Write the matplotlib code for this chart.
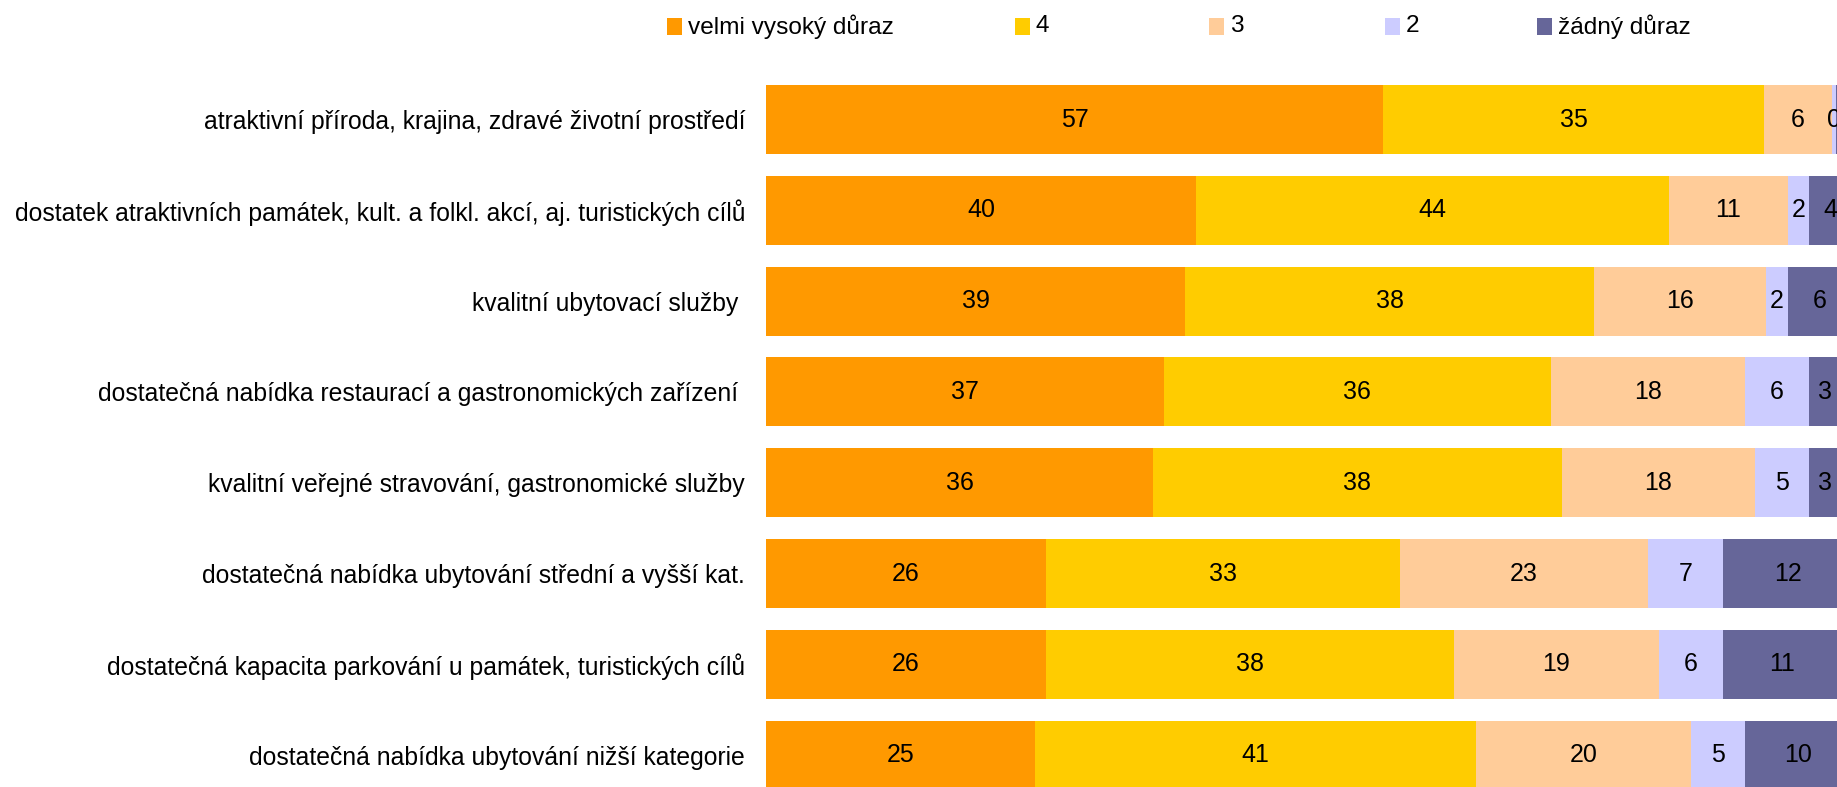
import matplotlib.pyplot as plt
from matplotlib.patches import Rectangle
import numpy as np

plt.rcParams['font.family'] = ['Liberation Sans', 'DejaVu Sans']

categories = [
    "atraktivní příroda, krajina, zdravé životní prostředí",
    "dostatek atraktivních památek, kult. a folkl. akcí, aj. turistických cílů",
    "kvalitní ubytovací služby ",
    "dostatečná nabídka restaurací a gastronomických zařízení ",
    "kvalitní veřejné stravování, gastronomické služby",
    "dostatečná nabídka ubytování střední a vyšší kat.",
    "dostatečná kapacita parkování u památek, turistických cílů",
    "dostatečná nabídka ubytování nižší kategorie",
]
series_names = ["velmi vysoký důraz", "4", "3", "2", "žádný důraz"]
velmi = [57.4, 40, 39, 37, 36, 26, 26, 25]
s4 = [35.4, 44, 38, 36, 38, 33, 38, 41]
s3 = [6.3, 11, 16, 18, 18, 23, 19, 20]
s2 = [0.4, 2, 2, 6, 5, 7, 6, 5]
zadny = [1.6, 4, 6, 3, 3, 12, 11, 10]
colors = ["#FF9900", "#FFCC00", "#FFCC99", "#CCCCFF", "#666699"]

W, H = 1837, 787
fig = plt.figure(figsize=(W / 100, H / 100), dpi=100)
left = 766 / W
ax = fig.add_axes([left, 0, 1 - left, 1])

y = np.arange(len(categories))
start = np.zeros(len(categories))
for vals, col in zip([velmi, s4, s3, s2, zadny], colors):
    vals = np.array(vals, dtype=float)
    ax.barh(y, vals, left=start, height=0.76, color=col, edgecolor='none')
    for yi, s, v in zip(y, start, vals):
        ax.text(s + v / 2, yi, f"{v:.0f}", ha='center', va='center',
                fontsize=18, color='black', clip_on=True)
    start += vals

ax.set_xlim(0, 99.6)
ax.set_ylim(7.35, -1.316)
ax.set_yticks(y)
ax.set_yticklabels(categories, fontsize=17.8)
ax.tick_params(axis='y', length=0, pad=15)
ax.set_xticks([])
for sp in ax.spines.values():
    sp.set_visible(False)

# legend
leg_x = [674, 1022, 1216, 1392, 1544]
leg_y = 26.5
for lx, name, col in zip(leg_x, series_names, colors):
    fig.patches.append(Rectangle(((lx - 7.5) / W, 1 - (leg_y + 8.5) / H), 15 / W, 17 / H,
                                 transform=fig.transFigure, facecolor=col, edgecolor='none'))
    fig.text((lx + 14) / W, 1 - leg_y / H, name, ha='left', va='center', fontsize=17.6)

fig.savefig("out.png", dpi=100)
